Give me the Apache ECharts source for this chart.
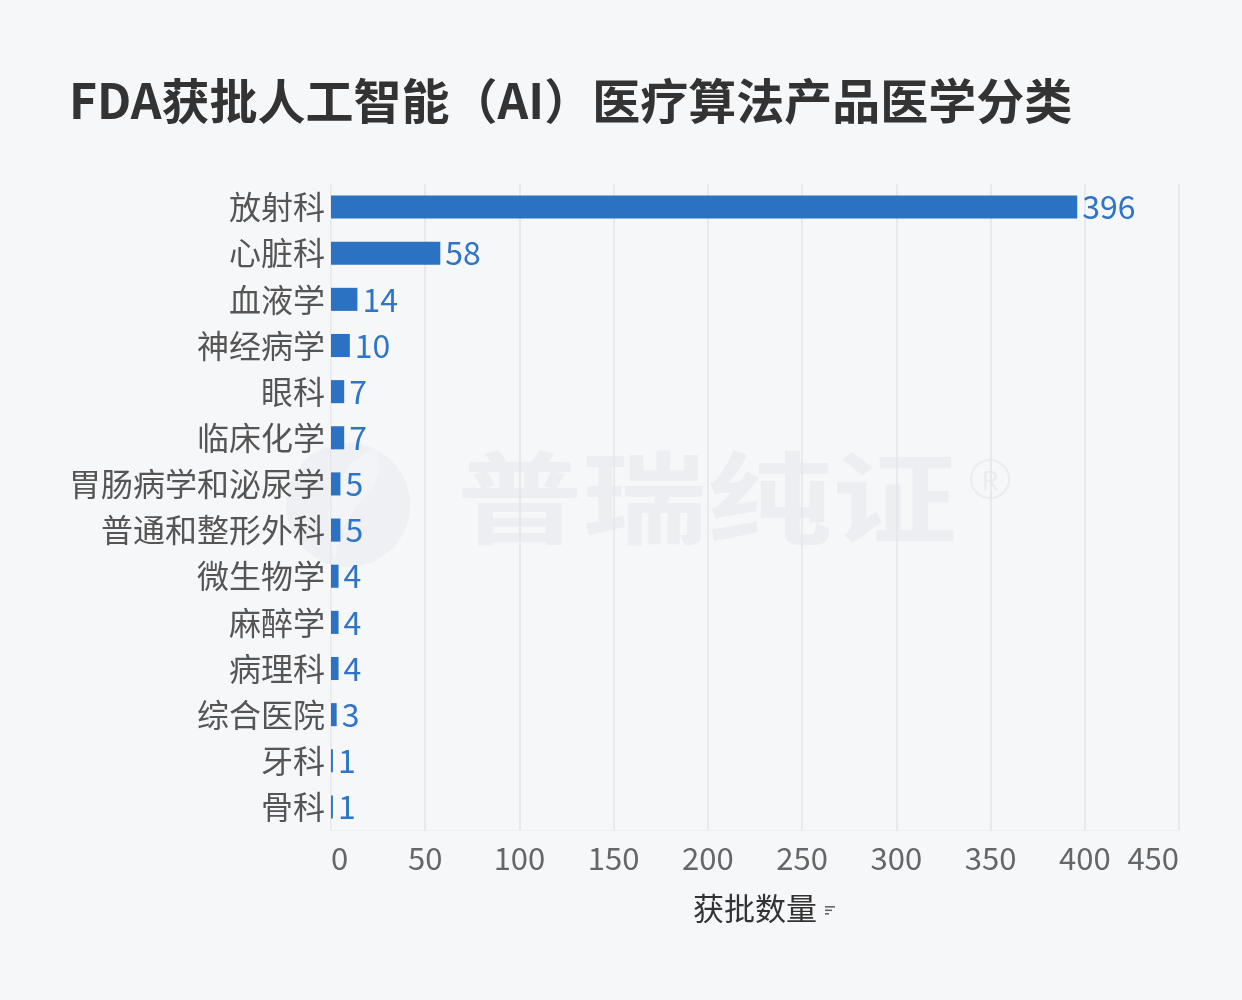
<!DOCTYPE html>
<html>
<head>
<meta charset="utf-8">
<script src="https://cdn.jsdelivr.net/npm/echarts@6/dist/echarts.min.js"></script>
<style>
html,body{margin:0;padding:0;background:#f6f7f9;}
#chart{width:1242px;height:1000px;}
</style>
</head>
<body>
<div id="chart"></div>
<script>
const categories = ['放射科','心脏科','血液学','神经病学','眼科','临床化学','胃肠病学和泌尿学','普通和整形外科','微生物学','麻醉学','病理科','综合医院','牙科','骨科'];
const values = [396,58,14,10,7,7,5,5,4,4,4,3,1,1];
const titleText = 'FDA获批人工智能（AI）医疗算法产品医学分类';
const xAxisName = '获批数量';

const chart = echarts.init(document.getElementById('chart'));
const font = '"Noto Sans CJK SC", "Noto Sans", sans-serif';
chart.setOption({
  backgroundColor: '#f6f7f9',
  textStyle: { fontFamily: font },
  title: {
    text: titleText,
    left: 64, top: 72,
    textStyle: { fontSize: 48, fontWeight: 'bold', color: '#333333', fontFamily: font }
  },
  graphic: [
    { type: 'circle', z: -10, silent: true, shape: { cx: 348, cy: 505, r: 62 }, style: { fill: '#eef0f3' } },
    { type: 'polygon', z: -9, silent: true,
      shape: { points: [[376,448],[352,462],[336,485],[328,512],[330,540],[334,562],[342,530],[356,506],[372,490],[380,470]] },
      style: { fill: '#f3f4f7' } },
    { type: 'text', z: -10, silent: true, left: 457, top: 448, scaleX: 1.25,
      style: { text: '普瑞纯证', fontSize: 100, fontWeight: 'bold', fill: '#eceef2', fontFamily: font } },
    { type: 'circle', z: -10, silent: true, shape: { cx: 990, cy: 479, r: 19 }, style: { fill: 'none', stroke: '#eaecf0', lineWidth: 2 } },
    { type: 'text', z: -10, silent: true, x: 990, y: 480,
      style: { text: 'R', fontSize: 26, fill: '#eaecf0', fontFamily: font, align: 'center', verticalAlign: 'middle' } },
    { type: 'rect', shape: { x: 825, y: 906, width: 10, height: 1.6 }, style: { fill: '#666' } },
    { type: 'rect', shape: { x: 825, y: 909.5, width: 7, height: 1.6 }, style: { fill: '#666' } },
    { type: 'rect', shape: { x: 825, y: 913, width: 4, height: 1.6 }, style: { fill: '#666' } }
  ],
  grid: { left: 331, right: 63, top: 184, bottom: 170, containLabel: false },
  xAxis: {
    type: 'value', min: 0, max: 450, interval: 50,
    name: xAxisName, nameLocation: 'middle', nameGap: 63,
    nameTextStyle: { fontSize: 31, color: '#333333', fontFamily: font },
    axisLine: { show: true, lineStyle: { color: '#eceef1' } },
    axisTick: { show: false },
    axisLabel: { fontSize: 31, color: '#666666', margin: 13, alignMinLabel: 'left', alignMaxLabel: 'right', fontFamily: font },
    splitLine: { show: true, lineStyle: { color: '#e2e4e9', width: 1.5 } }
  },
  yAxis: {
    type: 'category', data: categories, inverse: true,
    axisLine: { show: true, lineStyle: { color: '#eceef1' } },
    axisTick: { show: false },
    axisLabel: { fontSize: 32, color: '#555555', margin: 6, fontFamily: font }
  },
  series: [{
    type: 'bar', data: values, barWidth: '50%',
    itemStyle: { color: '#2c72c2' },
    label: { show: true, position: 'right', distance: 5, fontSize: 32, color: '#2f74c6', fontFamily: font }
  }]
});
</script>
</body>
</html>
